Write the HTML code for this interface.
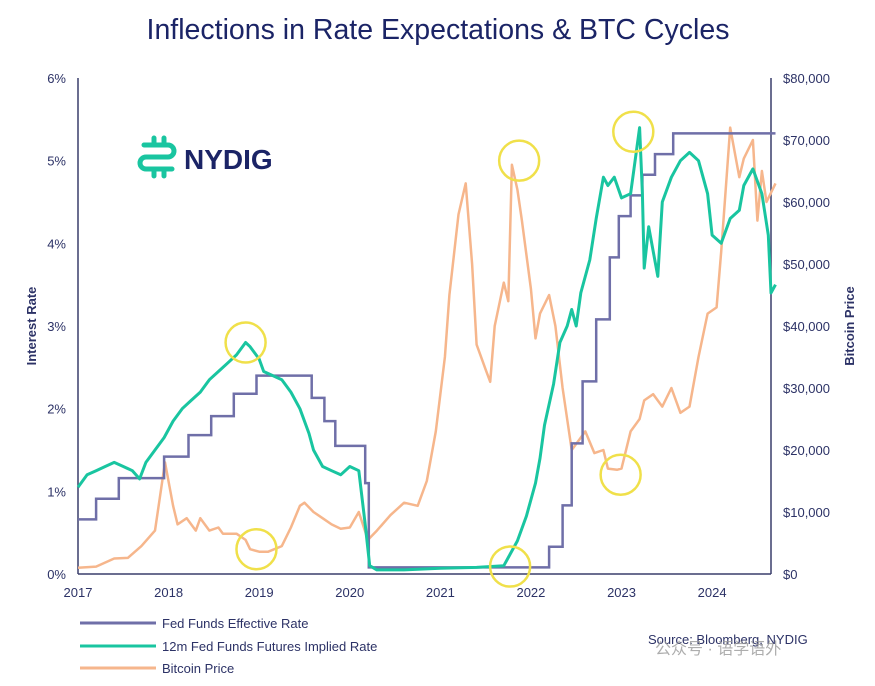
<!DOCTYPE html>
<html><head><meta charset="utf-8"><style>
body{margin:0;background:#fff;font-family:"Liberation Sans","Noto Sans CJK SC",sans-serif}
svg text{font-family:"Liberation Sans","Noto Sans CJK SC",sans-serif}
</style></head><body>
<svg id="c" width="875" height="681" viewBox="0 0 875 681">
<text x="438" y="39" text-anchor="middle" font-size="28.5" fill="#1b2466">Inflections in Rate Expectations &amp; BTC Cycles</text>
<g>
<g stroke="#19c5a0" stroke-width="5" fill="none" stroke-linecap="round">
<path d="M144 145 h24 a6 6 0 0 1 0 12 h-22 a6 6 0 0 0 0 12 h26"/>
<path d="M154 138 v7 M164 138 v7 M154 169 v7 M164 169 v7"/>
</g>
<text x="184" y="169" font-size="28" font-weight="bold" fill="#1b2466">NYDIG</text>
</g>
<g id="axes"></g>
<g id="marks"></g>
<text transform="translate(36,326) rotate(-90)" text-anchor="middle" font-size="13" font-weight="bold" fill="#2c3266">Interest Rate</text>
<text transform="translate(854,326) rotate(-90)" text-anchor="middle" font-size="13" font-weight="bold" fill="#2c3266">Bitcoin Price</text>
<g>
<line x1="80" y1="623" x2="156" y2="623" stroke="#6f6fa8" stroke-width="3"/><text x="162" y="628" font-size="13" fill="#2c3266">Fed Funds Effective Rate</text>
<line x1="80" y1="646" x2="156" y2="646" stroke="#19c5a0" stroke-width="3"/><text x="162" y="651" font-size="13" fill="#2c3266">12m Fed Funds Futures Implied Rate</text>
<line x1="80" y1="668" x2="156" y2="668" stroke="#f6b68c" stroke-width="3"/><text x="162" y="673" font-size="13" fill="#2c3266">Bitcoin Price</text>
</g>
<text x="648" y="644" font-size="13" fill="#2c3266">Source: Bloomberg, NYDIG</text>
<text x="655" y="654" font-size="16" fill="#999" opacity="0.8">公众号 · 语学语外</text>
</svg>
<script>
const years=[2017,2018,2019,2020,2021,2022,2023,2024];
const rateTicks=[0,1,2,3,4,5,6];
const btcTicks=[0,10,20,30,40,50,60,70,80];
const fedT=[2017,2017.2,2017.45,2017.95,2018.22,2018.47,2018.72,2018.97,2019.58,2019.72,2019.84,2020.17,2020.21,2022.2,2022.35,2022.45,2022.57,2022.72,2022.87,2022.97,2023.1,2023.23,2023.37,2023.57,2024.7];
const fedV=[0.66,0.91,1.16,1.42,1.68,1.91,2.18,2.40,2.13,1.85,1.55,1.1,0.08,0.33,0.83,1.58,2.33,3.08,3.83,4.33,4.58,4.83,5.08,5.33,5.33];
const futT=[2017,2017.1,2017.2,2017.3,2017.4,2017.5,2017.6,2017.68,2017.75,2017.85,2017.95,2018.05,2018.15,2018.25,2018.35,2018.45,2018.55,2018.65,2018.75,2018.85,2018.9,2019,2019.05,2019.15,2019.25,2019.35,2019.45,2019.55,2019.6,2019.7,2019.8,2019.9,2020,2020.1,2020.17,2020.22,2020.3,2020.6,2021,2021.4,2021.7,2021.75,2021.85,2021.95,2022.05,2022.1,2022.15,2022.25,2022.32,2022.4,2022.45,2022.5,2022.55,2022.65,2022.72,2022.8,2022.85,2022.92,2023,2023.1,2023.15,2023.2,2023.23,2023.25,2023.3,2023.4,2023.45,2023.55,2023.65,2023.75,2023.85,2023.95,2024,2024.1,2024.2,2024.3,2024.35,2024.45,2024.55,2024.62,2024.65,2024.7];
const futV=[1.05,1.2,1.25,1.3,1.35,1.3,1.25,1.15,1.35,1.5,1.65,1.85,2.0,2.1,2.2,2.35,2.45,2.55,2.65,2.8,2.75,2.6,2.45,2.4,2.35,2.2,2.0,1.7,1.5,1.3,1.25,1.2,1.3,1.25,0.6,0.1,0.05,0.05,0.07,0.08,0.1,0.2,0.4,0.7,1.1,1.4,1.8,2.3,2.8,3.0,3.2,3.0,3.4,3.8,4.3,4.8,4.7,4.8,4.55,4.6,5.0,5.4,4.6,3.7,4.2,3.6,4.5,4.8,5.0,5.1,5.0,4.6,4.1,4.0,4.3,4.4,4.7,4.9,4.6,4.1,3.4,3.5];
const btcT=[2017,2017.2,2017.4,2017.55,2017.7,2017.85,2017.96,2018.05,2018.1,2018.2,2018.3,2018.35,2018.45,2018.55,2018.6,2018.75,2018.85,2018.9,2019,2019.1,2019.25,2019.35,2019.45,2019.5,2019.6,2019.7,2019.8,2019.9,2020,2020.1,2020.2,2020.3,2020.45,2020.6,2020.75,2020.85,2020.95,2021.05,2021.1,2021.2,2021.28,2021.35,2021.4,2021.5,2021.55,2021.6,2021.7,2021.75,2021.79,2021.85,2021.9,2022,2022.05,2022.1,2022.2,2022.27,2022.35,2022.45,2022.55,2022.6,2022.7,2022.8,2022.85,2022.95,2023,2023.1,2023.2,2023.25,2023.35,2023.45,2023.55,2023.65,2023.75,2023.85,2023.95,2024.05,2024.1,2024.2,2024.3,2024.35,2024.45,2024.5,2024.55,2024.6,2024.7];
const btcV=[1,1.2,2.5,2.6,4.5,7,18,11,8,9,7,9,7,7.5,6.5,6.5,5.5,4,3.6,3.6,4.5,7.5,11,11.5,10,9,8,7.3,7.5,10,5.5,7,9.5,11.5,11,15,23,35,45,58,63,50,37,33,31,40,47,44,66,62,57,46,38,42,45,40,30,20,22,23,19.5,20,17,16.8,17,23,25,28,29,27,30,26,27,35,42,43,52,72,64,67,70,57,65,60,63];
const circT=[2018.85,2018.97,2021.87,2021.77,2022.99,2023.13];
const circV=[2.8,0.3,5.0,0.09,1.2,5.35];
const X0=78,X1=771,Y0=574,Y1=78;
const x=t=>X0+(t-2017)*(X1-X0)/7.65;
const yr=v=>Y0-v*(Y0-Y1)/6;
const yb=v=>Y0-v*(Y0-Y1)/80;
const NS='http://www.w3.org/2000/svg';
const ax=document.getElementById('axes'),mk=document.getElementById('marks');
function el(tag,attrs,parent){const e=document.createElementNS(NS,tag);for(const k in attrs)e.setAttribute(k,attrs[k]);parent.appendChild(e);return e;}
rateTicks.forEach(v=>{const t=el('text',{x:66,y:yr(v)+5,'text-anchor':'end','font-size':13,fill:'#2c3266'},ax);t.textContent=v+'%';

});
btcTicks.forEach(v=>{const t=el('text',{x:783,y:yb(v)+5,'font-size':13,fill:'#2c3266'},ax);t.textContent='$'+(v===0?'0':v+',000');

});
years.forEach(v=>{const t=el('text',{x:x(v),y:597,'text-anchor':'middle','font-size':13,fill:'#2c3266'},ax);t.textContent=v;

});
const a1=el('line',{x1:X0,y1:Y1,x2:X0,y2:Y0,stroke:'#3a3f6b','stroke-width':1.5},ax);


const a2=el('line',{x1:X1,y1:Y1,x2:X1,y2:Y0,stroke:'#3a3f6b','stroke-width':1.5},ax);


const a3=el('line',{x1:X0,y1:Y0,x2:X1,y2:Y0,stroke:'#3a3f6b','stroke-width':1.5},ax);


let d='';btcT.forEach((t,i)=>{d+=(i?'L':'M')+x(t).toFixed(1)+' '+yb(btcV[i]).toFixed(1);});
const p1=el('path',{d:d,fill:'none',stroke:'#f6b68c','stroke-width':2.5,'stroke-linejoin':'round'},mk);


d='';fedT.forEach((t,i)=>{if(i){d+='H'+x(t).toFixed(1);}d+=(i?'V':'M'+x(t).toFixed(1)+' ')+yr(fedV[i]).toFixed(1);});
const p2=el('path',{d:d,fill:'none',stroke:'#6f6fa8','stroke-width':2.5},mk);


d='';futT.forEach((t,i)=>{d+=(i?'L':'M')+x(t).toFixed(1)+' '+yr(futV[i]).toFixed(1);});
const p3=el('path',{d:d,fill:'none',stroke:'#19c5a0','stroke-width':3,'stroke-linejoin':'round'},mk);


circT.forEach((t,i)=>{const c=el('circle',{cx:x(t),cy:yr(circV[i]),r:20,fill:'none',stroke:'#f0e04a','stroke-width':2.5},mk);

});
</script>
</body></html>
